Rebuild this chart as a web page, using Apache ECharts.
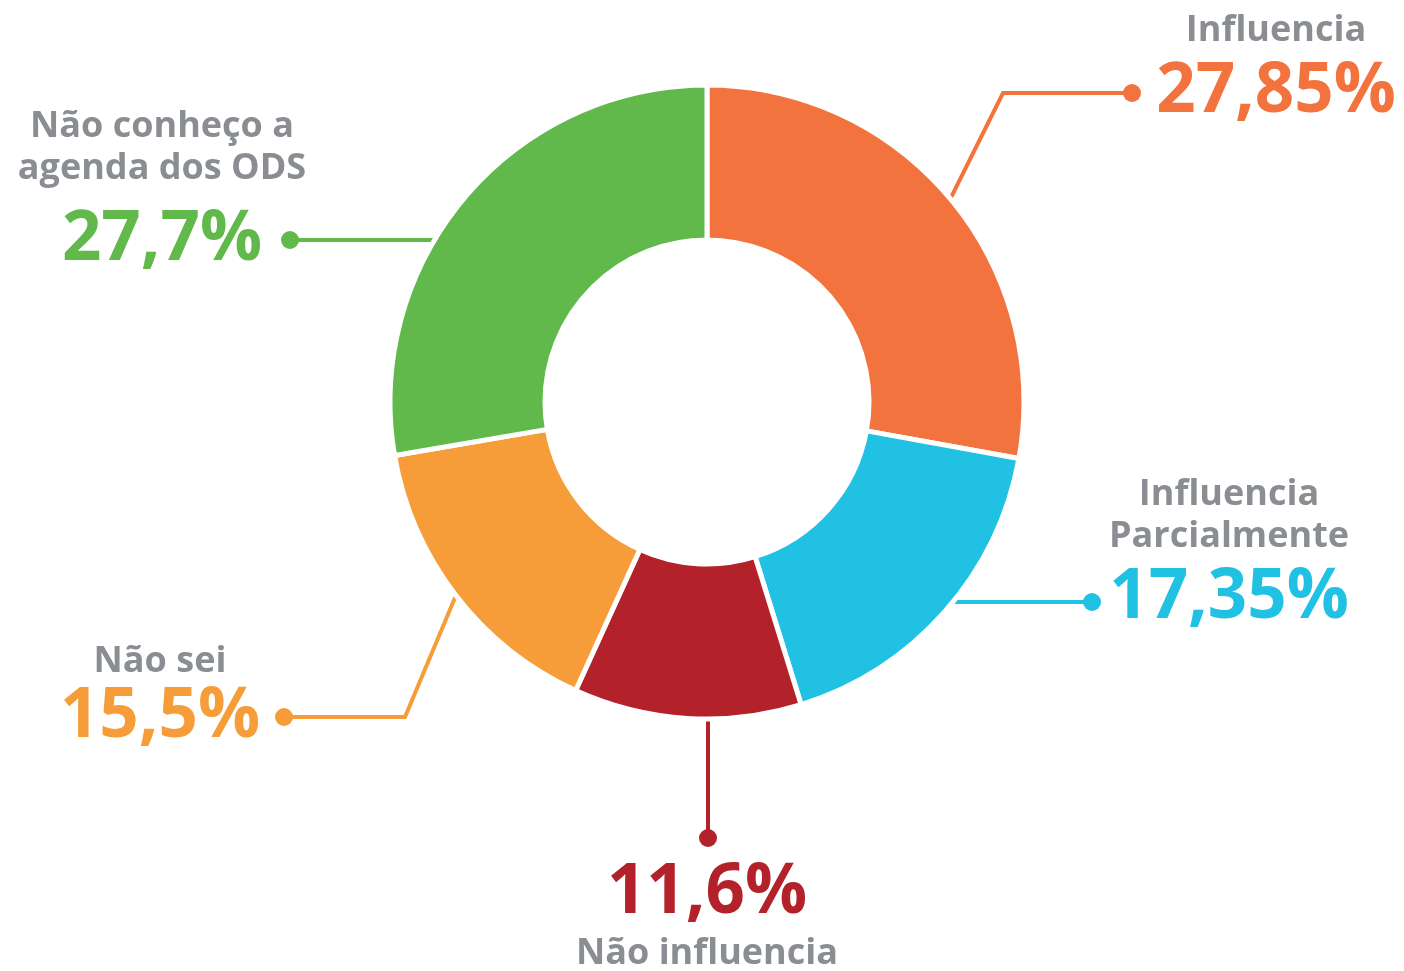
<!DOCTYPE html>
<html>
<head>
<meta charset="utf-8">
<script src="https://cdn.jsdelivr.net/npm/echarts@6/dist/echarts.min.js"></script>
<style>
html, body { margin: 0; background: #fff; }
#main { width: 1404px; height: 971px; }
</style>
</head>
<body>
<div id="main"></div>
<script>
// dados do grafico
var nomes = ['Influencia', 'Influencia\nParcialmente', 'Não influencia', 'Não sei', 'Não conheço a\nagenda dos ODS'];
var valores = [27.85, 17.35, 11.6, 15.5, 27.7];
var cores = ['#F2733D', '#21C1E4', '#B3222A', '#F69C38', '#61B94B'];

// geometria da rosca (px)
var cx = 707, cy = 402, R = 317, r = 162;
// fim de cada linha (bolinha) e centro do valor
var pontas = [[1132, 93], [1092, 602], [708, 838], [284, 717], [290, 240]];
var textos = [[1276, 92], [1229, 598], [707, 893], [160, 717], [162, 240]];
var alturaValor = [80, 80, 80, 68, 100];

var total = valores.reduce(function (a, b) { return a + b; }, 0);
function meioAngulo(i) {
    var acc = 0;
    for (var k = 0; k < i; k++) acc += valores[k];
    return (acc + valores[i] / 2) / total * Math.PI * 2;
}
function bordaNaAltura(y, lado) {
    var dy = y - cy;
    return [cx + lado * Math.sqrt(R * R - dy * dy), y];
}
function linha(i) {
    var d = pontas[i];
    var a = meioAngulo(i);
    var p0 = [cx + R * Math.sin(a), cy - R * Math.cos(a)];
    if (i == 0) return [p0, [d[0] - 129, d[1]], d];
    if (i == 1) return [bordaNaAltura(d[1], 1), d];
    if (i == 2) return [[d[0], cy + R], d];
    if (i == 3) return [p0, [d[0] + 121, d[1]], d];
    return [bordaNaAltura(d[1], -1), d];
}
function fmt(v) { return String(v).replace('.', ',') + '%'; }

var dadosFatias = nomes.map(function (n, i) {
    return {
        name: n, value: valores[i],
        itemStyle: { color: cores[i] },
        label: { rich: { d: { backgroundColor: cores[i] } } },
        labelLine: { lineStyle: { color: cores[i] } }
    };
});
var dadosTextos = nomes.map(function (n, i) {
    return {
        name: n, value: valores[i],
        label: { rich: { v: { color: cores[i], lineHeight: alturaValor[i] } } }
    };
});

var chart = echarts.init(document.getElementById('main'));
var option = {
    animation: false,
    series: [{
        name: 'fatias',
        type: 'pie',
        center: [cx, cy],
        radius: [r, R],
        startAngle: 90,
        avoidLabelOverlap: false,
        silent: true,
        itemStyle: { borderColor: '#fff', borderWidth: 5 },
        label: {
            show: true,
            position: 'outside',
            formatter: '{d|}',
            rich: { d: { width: 18, height: 18, lineHeight: 18, borderRadius: 9 } }
        },
        labelLine: { show: true, smooth: false, lineStyle: { width: 4 } },
        labelLayout: function (p) {
            var i = p.dataIndex;
            return {
                x: pontas[i][0], y: pontas[i][1],
                align: 'center', verticalAlign: 'middle',
                labelLinePoints: linha(i)
            };
        },
        data: dadosFatias
    }, {
        name: 'textos',
        type: 'pie',
        center: [cx, cy],
        radius: [r, R],
        startAngle: 90,
        avoidLabelOverlap: false,
        silent: true,
        itemStyle: { color: 'rgba(0,0,0,0)' },
        label: {
            show: true,
            position: 'outside',
            formatter: function (p) {
                var linhasNome = p.name.split('\n').map(function (s) { return '{n|' + s + '}'; }).join('\n');
                var val = '{v|' + fmt(p.value) + '}';
                return p.dataIndex == 2 ? val + '\n' + linhasNome : linhasNome + '\n' + val;
            },
            rich: {
                n: { fontFamily: 'Open Sans', fontWeight: 700, fontSize: 36, lineHeight: 42, color: '#8A8D91', align: 'center' },
                v: { fontFamily: 'Open Sans', fontWeight: 700, fontSize: 69, lineHeight: 80, align: 'center' }
            }
        },
        labelLine: { show: false },
        labelLayout: function (p) {
            var i = p.dataIndex, t = textos[i], h = alturaValor[i] / 2;
            if (i == 2) return { x: t[0], y: t[1] - h, align: 'center', verticalAlign: 'top' };
            return { x: t[0], y: t[1] + h, align: 'center', verticalAlign: 'bottom' };
        },
        data: dadosTextos
    }]
};
chart.setOption(option);
</script>
</body>
</html>
